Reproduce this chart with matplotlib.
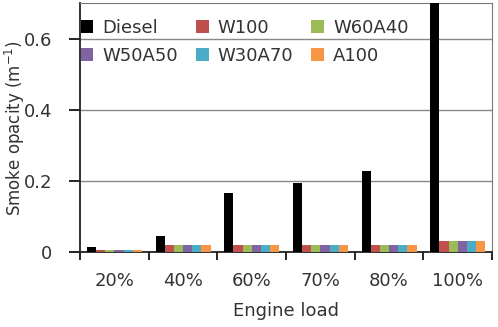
import numpy as np
import matplotlib.pyplot as plt

plt.rcParams['font.family'] = ['DejaVu Sans']

loads = ['20%', '40%', '60%', '70%', '80%', '100%']
series = ['Diesel', 'W100', 'W60A40', 'W50A50', 'W30A70', 'A100']
diesel = [0.013, 0.045, 0.165, 0.195, 0.228, 0.70]
w100 = [0.005, 0.02, 0.02, 0.02, 0.02, 0.03]
w60a40 = [0.005, 0.02, 0.02, 0.02, 0.02, 0.03]
w50a50 = [0.005, 0.02, 0.02, 0.02, 0.02, 0.03]
w30a70 = [0.005, 0.02, 0.02, 0.02, 0.02, 0.03]
a100 = [0.005, 0.02, 0.02, 0.02, 0.02, 0.03]
colors = ['#000000', '#C0504D', '#9BBB59', '#8064A2', '#4BACC6', '#F79646']

data = [diesel, w100, w60a40, w50a50, w30a70, a100]
txt = '#333333'

fig = plt.figure(figsize=(4.98, 3.27), dpi=100)
ax = fig.add_axes([0.161, 0.229, 0.827, 0.762])

x = np.arange(len(loads))
w = 0.8 / len(series)
bars = []
for i, (name, vals) in enumerate(zip(series, data)):
    b = ax.bar(x - 0.4 + w * (i + 0.5), vals, width=w, color=colors[i], label=name, zorder=3)
    bars.append(b)

ax.set_xlim(-0.5, len(loads) - 0.5)
ax.set_ylim(0, 0.7)
ax.set_yticks([0, 0.2, 0.4, 0.6])
ax.set_yticklabels(['0', '0.2', '0.4', '0.6'])
ax.grid(axis='y', color='#888888', linewidth=1, zorder=0)

# boundary ticks on x, labels at centres
ax.set_xticks(np.arange(len(loads) + 1) - 0.5)
ax.set_xticklabels([])
ax.set_xticks(x, minor=True)
ax.set_xticklabels(loads, minor=True)
ax.tick_params(axis='x', which='minor', length=0, pad=14, labelsize=13, labelcolor=txt)
ax.tick_params(axis='x', which='major', length=6, width=1.2, direction='out')
ax.tick_params(axis='y', length=8, width=1.2, direction='out', pad=12,
               labelsize=13, labelcolor=txt)

for s in ['left', 'bottom']:
    ax.spines[s].set_color('#222222')
    ax.spines[s].set_linewidth(1.3)
for s in ['top', 'right']:
    ax.spines[s].set_color('#777777')

ax.set_xlabel('Engine load', fontsize=13, color=txt, labelpad=9)
ax.set_ylabel('Smoke opacity (m$^{-1}$)', fontsize=12, color=txt)
ax.yaxis.set_label_coords(-0.13, 0.5)

# row-wise legend order
order = [0, 3, 1, 4, 2, 5]
ax.legend([bars[i] for i in order], [series[i] for i in order], ncol=3,
          loc='upper left', bbox_to_anchor=(-0.025, 0.98), frameon=False,
          fontsize=13, handlelength=0.7, handleheight=0.7, handletextpad=0.5,
          columnspacing=1.0, labelspacing=0.55, borderaxespad=0.2, labelcolor=txt)

plt.savefig('out.png', dpi=100)
